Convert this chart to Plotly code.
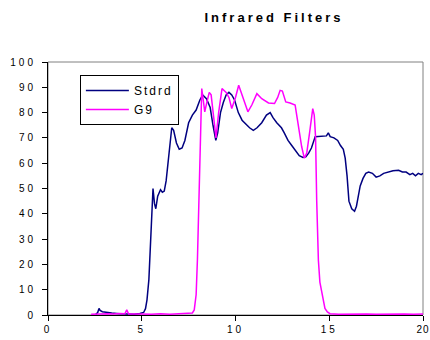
import plotly.graph_objects as go

# Stdrd series
stdrd_x = [2.55, 2.65, 2.72, 2.78, 2.9, 3.1, 3.4, 3.8, 4.2, 4.6, 4.9,
           5.1, 5.2, 5.28, 5.38, 5.45, 5.5, 5.55, 5.6, 5.68, 5.75,
           5.85, 6.0, 6.1, 6.2, 6.3, 6.45, 6.6, 6.7, 6.85, 7.0,
           7.15, 7.3, 7.5, 7.7, 7.9, 8.1, 8.25, 8.45, 8.65, 8.8,
           8.95, 9.05, 9.2, 9.35, 9.5, 9.65, 9.8, 9.95, 10.15, 10.35,
           10.55, 10.75, 10.95, 11.15, 11.4, 11.65, 11.85, 12.0, 12.2, 12.45,
           12.6, 12.8, 13.0, 13.2, 13.4, 13.6, 13.75, 13.9, 14.05, 14.25,
           14.5, 14.75, 14.85, 14.95, 15.05, 15.25, 15.45, 15.6, 15.75, 15.85,
           15.95, 16.05, 16.2, 16.35, 16.45, 16.55, 16.65, 16.8, 16.95, 17.1,
           17.3, 17.5, 17.7, 17.9, 18.1, 18.4, 18.7, 18.9, 19.1, 19.3,
           19.45, 19.6, 19.75, 19.9, 20.0]
stdrd_y = [0.3, 1.0, 2.6, 1.8, 1.3, 1.0, 0.8, 0.5, 0.4, 0.3, 0.6,
           1.0, 2.5, 6, 14, 24, 33, 42, 50, 44, 42,
           47, 49.5, 48.5, 49, 53, 63, 74, 73, 68, 65.5,
           66, 69, 76, 79, 81, 85, 87, 85.5, 82, 75,
           69, 72, 80, 84, 87, 88, 87, 85, 80, 77,
           75.5, 74, 73, 74, 76, 79, 80, 78, 76, 74,
           72, 69, 67, 65, 63, 62.3, 62.5, 64, 66, 70.5,
           70.7, 70.7, 70.8, 72, 70.5, 70, 69, 67, 65.5, 62,
           55, 45, 42, 41, 43, 47, 51, 54, 56, 56.5,
           56, 54.5, 55, 56, 56.5, 57, 57.2, 56.5, 56.5, 55.5,
           56, 55, 56, 55.5, 56]

# G9 series
g9_x = [2.3, 2.6, 2.9, 3.2, 3.5, 3.8, 4.1, 4.2, 4.3, 4.6,
        5.0, 5.5, 6.0, 6.5, 7.0, 7.4, 7.6, 7.7, 7.8, 7.9,
        7.97, 8.02, 8.09, 8.14, 8.2, 8.28, 8.36, 8.47, 8.6, 8.7,
        8.8, 8.96, 9.1, 9.28, 9.5, 9.65, 9.8, 10.0, 10.17, 10.38,
        10.55, 10.66, 10.87, 11.14, 11.4, 11.6, 11.76, 12.08, 12.25, 12.38,
        12.5, 12.68, 12.91, 13.18, 13.35, 13.53, 13.67, 13.8, 13.95, 14.06,
        14.12, 14.2, 14.27, 14.33, 14.42, 14.5, 14.6, 14.77, 14.9, 15.04,
        15.5, 16, 16.5, 17, 17.5, 18, 18.5, 19, 19.5, 20]
g9_y = [0.3, 0.4, 0.3, 0.5, 0.4, 0.6, 0.5, 2.0, 0.4, 0.3,
        0.4, 0.3, 0.5, 0.3, 0.4, 0.5, 0.6, 0.8, 2, 8,
        22, 38, 65, 81, 89.5, 85, 80.3, 84, 88, 87,
        80, 70, 80, 89.5, 88, 86, 81.6, 86, 90.8, 86,
        82, 80.3, 83, 87.5, 85.5, 84.5, 83.8, 83.6, 86, 88.8,
        88.5, 84.2, 83.8, 83, 74.3, 66.5, 62, 64, 72, 80,
        81.6, 79, 70.4, 45.4, 21.7, 13, 8.6, 2.6, 1.2, 0.5,
        0.3, 0.4, 0.3, 0.4, 0.3, 0.4, 0.3, 0.4, 0.3, 0.4]

series_names = ["Stdrd", "G9"]
title_text = "Infrared Filters"
x_ticks = [0, 5, 10, 15, 20]
y_ticks = [0, 10, 20, 30, 40, 50, 60, 70, 80, 90, 100]


def spaced(s, px):
    return f"<span style='letter-spacing:{px}px'>{s}</span>"


fig = go.Figure()
fig.add_trace(go.Scatter(x=stdrd_x, y=stdrd_y, mode="lines", name=spaced(series_names[0], 2),
                         line=dict(color="#000080", width=1.5)))
fig.add_trace(go.Scatter(x=g9_x, y=g9_y, mode="lines", name=spaced(series_names[1], 2),
                         line=dict(color="#FF00FF", width=1.5)))

fig.add_shape(type="rect", xref="paper", yref="paper", x0=0, y0=0, x1=1, y1=1,
              line=dict(color="#808080", width=1), layer="below")

x_ticktext = [spaced(str(v), 3 if v != x_ticks[-1] else 1) for v in x_ticks]

fig.update_layout(
    width=430, height=340,
    margin=dict(l=48, r=7, t=62, b=25, autoexpand=False),
    paper_bgcolor="white", plot_bgcolor="white",
    font=dict(family="Arial, Liberation Sans, sans-serif", size=10, color="black"),
    title=dict(text=spaced(f"<b>{title_text}</b>", 3), x=274/430, xanchor="center",
               y=1-17/340, yanchor="middle", font=dict(size=13)),
    showlegend=True,
    legend=dict(x=0.085, y=0.949, xanchor="left", yanchor="top",
                bgcolor="white", bordercolor="black", borderwidth=1,
                itemwidth=43, tracegroupgap=0, font=dict(size=12)),
    xaxis=dict(range=[0, 20], tickvals=x_ticks,
               ticktext=x_ticktext,
               ticklabeloverflow="allow", automargin=False,
               showgrid=False, zeroline=False,
               showline=True, linecolor="black", linewidth=1,
               ticks="outside", ticklen=5, tickcolor="black"),
    yaxis=dict(range=[0, 100], tickvals=y_ticks,
               ticktext=[spaced(str(v), 3) for v in y_ticks],
               automargin=False,
               showgrid=False, zeroline=False,
               showline=True, linecolor="black", linewidth=1,
               ticks="outside", ticklen=5, tickcolor="black",
               ticklabelstandoff=4),
)

fig.write_html("out.html", config={"displayModeBar": False},
               post_script="document.body.style.margin='0';")
